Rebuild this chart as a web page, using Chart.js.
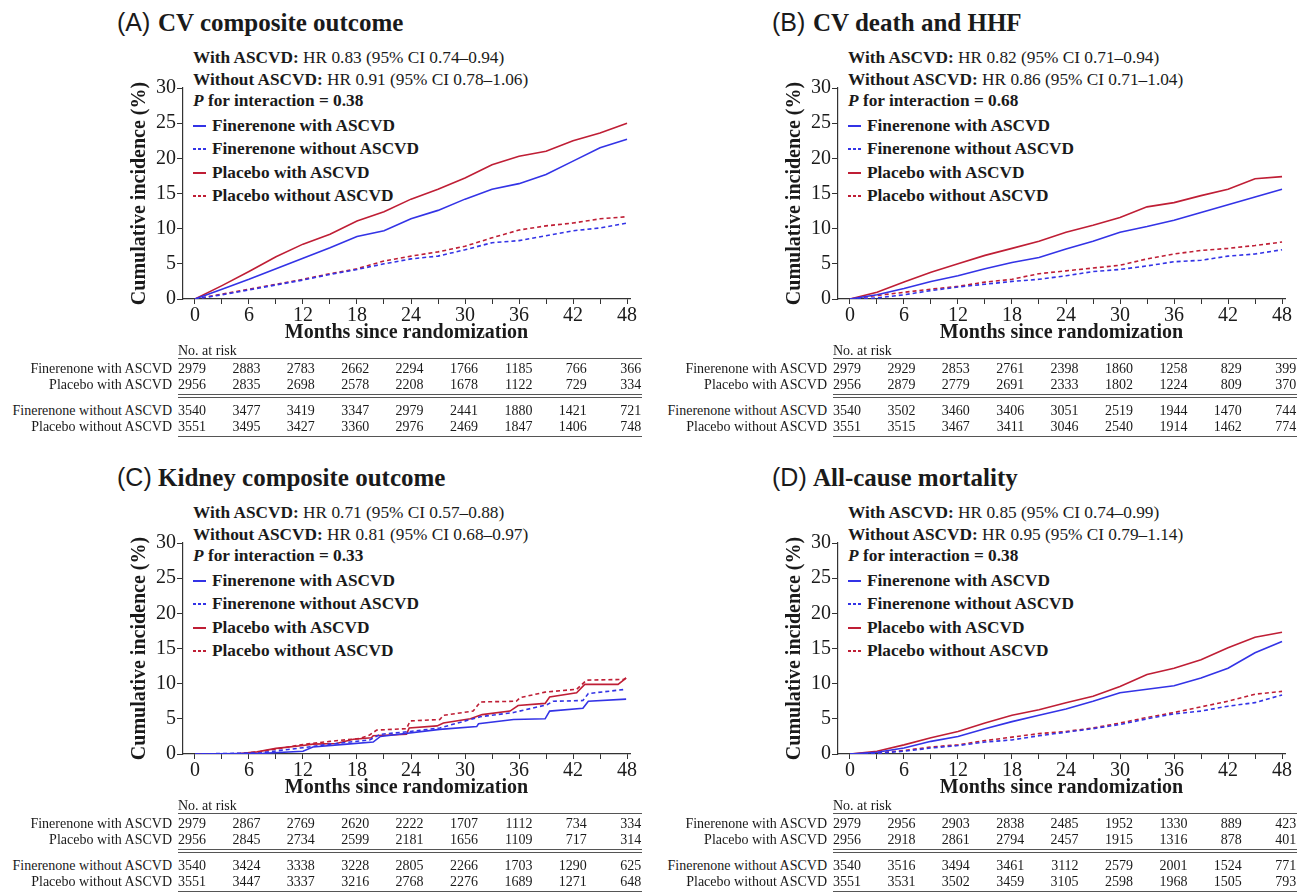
<!DOCTYPE html>
<html>
<head>
<meta charset="utf-8">
<script src="https://cdn.jsdelivr.net/npm/chart.js@4.4.1/dist/chart.umd.min.js"></script>
<style>
  body { margin: 0; background: #fff; }
  #fig { position: relative; width: 1303px; height: 893px; overflow: hidden; color: #1a1a1a;
         font-family: 'Liberation Serif', 'Times New Roman', serif; }
  .t { position: absolute; white-space: nowrap; }
  .hl { position: absolute; height: 0; }
  .sw { position: absolute; width: 13px; height: 2px; }
  canvas { position: absolute; }
</style>
</head>
<body>
<div id="fig"></div>
<script>
const months = [0, 3, 6, 9, 12, 15, 18, 21, 24, 27, 30, 33, 36, 39, 42, 45, 48];
const tickMonths = [0, 3, 6, 9, 12, 15, 18, 21, 24, 27, 30, 33, 36, 39, 42, 45, 48];
const yTicks = [0, 5, 10, 15, 20, 25, 30];

// (A) CV composite outcome, cumulative incidence %
const cvFinWith     = [0, 1.4, 2.8, 4.3, 5.8, 7.3, 8.9, 9.7, 11.4, 12.6, 14.2, 15.6, 16.4, 17.7, 19.6, 21.5, 22.7];
const cvFinWithout  = [0, 0.6, 1.3, 2.0, 2.7, 3.5, 4.2, 5.0, 5.7, 6.1, 7.0, 8.0, 8.3, 9.0, 9.7, 10.1, 10.8];
const cvPboWith     = [0, 1.9, 3.9, 6.0, 7.8, 9.2, 11.1, 12.4, 14.2, 15.6, 17.2, 19.1, 20.3, 21.0, 22.5, 23.6, 25.0];
const cvPboWithout  = [0, 0.7, 1.4, 2.1, 2.8, 3.6, 4.3, 5.4, 6.1, 6.7, 7.5, 8.7, 9.8, 10.4, 10.8, 11.4, 11.7];

// (B) CV death and HHF
const hfFinWith     = [0, 0.6, 1.5, 2.5, 3.3, 4.3, 5.2, 5.9, 7.1, 8.2, 9.5, 10.3, 11.2, 12.3, 13.4, 14.5, 15.6];
const hfFinWithout  = [0, 0.15, 0.6, 1.2, 1.7, 2.1, 2.5, 2.8, 3.3, 3.9, 4.2, 4.7, 5.3, 5.5, 6.1, 6.4, 7.0];
const hfPboWith     = [0, 0.95, 2.4, 3.8, 5.0, 6.2, 7.2, 8.2, 9.5, 10.5, 11.6, 13.1, 13.7, 14.7, 15.6, 17.1, 17.4];
const hfPboWithout  = [0, 0.5, 0.95, 1.4, 1.8, 2.4, 2.8, 3.6, 4.0, 4.4, 4.8, 5.7, 6.4, 6.9, 7.2, 7.6, 8.1];

// (C) Kidney composite outcome: [month, %] pairs (curves jump in steps)
const kidneyFinWith    = [[0, 0], [7.6, 0.1], [12, 0.4], [13.1, 1.0], [16.9, 1.4], [19.8, 1.7], [20.6, 2.5], [27.2, 3.5],
                          [31.3, 3.9], [31.5, 4.3], [35.4, 4.9], [38.9, 5.0], [39.4, 6.1], [43.1, 6.5], [43.7, 7.5], [47.9, 7.8]];
const kidneyFinWithout = [[0, 0], [7.2, 0.15], [12, 0.9], [15, 1.4], [19.4, 2.0], [20.6, 2.8], [23.9, 3.2], [27.2, 3.7],
                          [31.7, 5.3], [35.4, 5.9], [39.1, 7.0], [39.8, 7.5], [43.1, 7.6], [43.7, 8.6], [47.9, 9.2]];
const kidneyPboWith    = [[0, 0], [5, 0.05], [6.9, 0.3], [9, 0.8], [12, 1.2], [13.1, 1.4], [15.7, 1.5], [17.6, 2.1],
                          [19.6, 2.3], [19.8, 2.6], [23.5, 2.8], [23.8, 3.7], [26.9, 4.0], [27.6, 4.4], [30.6, 5.0],
                          [31.9, 5.6], [35, 6.1], [35.9, 6.9], [38.9, 7.2], [39.4, 8.1], [42.4, 8.7], [43.3, 9.9],
                          [47, 9.9], [47.9, 10.8]];
const kidneyPboWithout = [[0, 0], [5, 0.05], [7.2, 0.33], [9, 0.7], [12, 1.35], [15, 1.8], [18.3, 2.2], [19.4, 2.7],
                          [20.2, 3.4], [23.5, 3.6], [23.9, 4.7], [27.2, 4.9], [27.6, 5.5], [30.9, 6.1], [31.7, 7.4],
                          [35.7, 7.5], [36.1, 8.0], [38.9, 8.8], [42.4, 9.2], [43.5, 10.5], [47.6, 10.6], [47.9, 10.8]];

// (D) All-cause mortality
const acmFinWith    = [0, 0.25, 0.85, 1.8, 2.5, 3.6, 4.6, 5.5, 6.4, 7.5, 8.7, 9.2, 9.7, 10.8, 12.2, 14.4, 16.0];
const acmFinWithout = [0, 0.1, 0.4, 0.85, 1.2, 1.7, 2.0, 2.6, 3.1, 3.6, 4.2, 5.0, 5.7, 6.1, 6.8, 7.3, 8.4];
const acmPboWith    = [0, 0.4, 1.3, 2.3, 3.2, 4.4, 5.5, 6.3, 7.3, 8.2, 9.6, 11.3, 12.2, 13.4, 15.1, 16.6, 17.3];
const acmPboWithout = [0, 0.15, 0.5, 1.0, 1.3, 1.9, 2.4, 2.9, 3.2, 3.7, 4.4, 5.2, 5.9, 6.7, 7.5, 8.5, 8.9];

// numbers at risk at 0, 6, ..., 48 months
const riskRowLabels = ['Finerenone with ASCVD', 'Placebo with ASCVD', 'Finerenone without ASCVD', 'Placebo without ASCVD'];
const cvRisk  = [[2979, 2883, 2783, 2662, 2294, 1766, 1185, 766, 366],
                 [2956, 2835, 2698, 2578, 2208, 1678, 1122, 729, 334],
                 [3540, 3477, 3419, 3347, 2979, 2441, 1880, 1421, 721],
                 [3551, 3495, 3427, 3360, 2976, 2469, 1847, 1406, 748]];
const hfRisk  = [[2979, 2929, 2853, 2761, 2398, 1860, 1258, 829, 399],
                 [2956, 2879, 2779, 2691, 2333, 1802, 1224, 809, 370],
                 [3540, 3502, 3460, 3406, 3051, 2519, 1944, 1470, 744],
                 [3551, 3515, 3467, 3411, 3046, 2540, 1914, 1462, 774]];
const kidneyRisk = [[2979, 2867, 2769, 2620, 2222, 1707, 1112, 734, 334],
                    [2956, 2845, 2734, 2599, 2181, 1656, 1109, 717, 314],
                    [3540, 3424, 3338, 3228, 2805, 2266, 1703, 1290, 625],
                    [3551, 3447, 3337, 3216, 2768, 2276, 1689, 1271, 648]];
const acmRisk = [[2979, 2956, 2903, 2838, 2485, 1952, 1330, 889, 423],
                 [2956, 2918, 2861, 2794, 2457, 1915, 1316, 878, 401],
                 [3540, 3516, 3494, 3461, 3112, 2579, 2001, 1524, 771],
                 [3551, 3531, 3502, 3459, 3105, 2598, 1968, 1505, 793]];

const seriesNames = ['Finerenone with ASCVD', 'Finerenone without ASCVD', 'Placebo with ASCVD', 'Placebo without ASCVD'];
const BLUE = '#3333e6';
const RED = '#bf1e35';
const seriesColors = [BLUE, BLUE, RED, RED];
const seriesDashed = [false, true, false, true];

const panels = [
  { ox: 0, oy: 0, tag: '(A)', title: 'CV composite outcome',
    hr1: 'HR 0.83 (95% CI 0.74–0.94)', hr2: 'HR 0.91 (95% CI 0.78–1.06)', p: '0.38',
    series: [cvFinWith, cvFinWithout, cvPboWith, cvPboWithout], risk: cvRisk },
  { ox: 655, oy: 0, tag: '(B)', title: 'CV death and HHF',
    hr1: 'HR 0.82 (95% CI 0.71–0.94)', hr2: 'HR 0.86 (95% CI 0.71–1.04)', p: '0.68',
    series: [hfFinWith, hfFinWithout, hfPboWith, hfPboWithout], risk: hfRisk },
  { ox: 0, oy: 455, tag: '(C)', title: 'Kidney composite outcome',
    hr1: 'HR 0.71 (95% CI 0.57–0.88)', hr2: 'HR 0.81 (95% CI 0.68–0.97)', p: '0.33',
    series: [kidneyFinWith, kidneyFinWithout, kidneyPboWith, kidneyPboWithout], risk: kidneyRisk },
  { ox: 655, oy: 455, tag: '(D)', title: 'All-cause mortality',
    hr1: 'HR 0.85 (95% CI 0.74–0.99)', hr2: 'HR 0.95 (95% CI 0.79–1.14)', p: '0.38',
    series: [acmFinWith, acmFinWithout, acmPboWith, acmPboWithout], risk: acmRisk }
];

const SERIF = "'Liberation Serif', 'Times New Roman', serif";
const SANS = "'Liberation Sans', Arial, sans-serif";
const INK = '#1a1a1a';
const AXIS = '#333';
const fig = document.getElementById('fig');

function text(html, x, yc, size, opts = {}) {
  const d = document.createElement('div');
  d.className = 't';
  const lh = Math.round(size * 1.3);
  d.style.top = (yc - lh / 2) + 'px';
  d.style.lineHeight = lh + 'px';
  d.style.fontSize = size + 'px';
  if (opts.right) { d.style.right = (1303 - x) + 'px'; d.style.textAlign = 'right'; }
  else d.style.left = x + 'px';
  if (opts.bold) d.style.fontWeight = 'bold';
  if (opts.family) d.style.fontFamily = opts.family;
  d.innerHTML = html;
  fig.appendChild(d);
  return d;
}

function hline(x1, x2, y, w, color) {
  const d = document.createElement('div');
  d.className = 'hl';
  d.style.left = x1 + 'px';
  d.style.width = (x2 - x1) + 'px';
  d.style.top = y + 'px';
  d.style.borderTop = w + 'px solid ' + color;
  fig.appendChild(d);
}

function toPoints(arr) {
  if (Array.isArray(arr[0])) return arr.map(([x, y]) => ({ x, y }));
  return months.map((m, i) => ({ x: m, y: arr[i] }));
}

panels.forEach(p => {
  const X = v => p.ox + v, Y = v => p.oy + v;

  // heading
  text(p.tag, X(117), Y(22), 25, { family: SANS });
  text(p.title, X(158), Y(22), 25, { bold: true });

  // HR annotation
  text('<b>With ASCVD:</b> ' + p.hr1, X(193), Y(58), 17.3);
  text('<b>Without ASCVD:</b> ' + p.hr2, X(193), Y(80), 17.3);
  text('<b><i>P</i> for interaction = ' + p.p + '</b>', X(193), Y(101), 17.3);

  // legend
  seriesNames.forEach((name, i) => {
    const yc = Math.round(Y(126 + i * 23.3));
    const s = document.createElement('div');
    s.className = 'sw';
    s.style.left = X(193) + 'px';
    s.style.top = (yc - 1) + 'px';
    s.style.background = seriesDashed[i]
      ? `repeating-linear-gradient(90deg, ${seriesColors[i]} 0 3px, transparent 3px 5px)`
      : seriesColors[i];
    fig.appendChild(s);
    text(name, X(212), yc, 17.3, { bold: true });
  });

  // chart
  const cv = document.createElement('canvas');
  cv.width = 545; cv.height = 275;
  cv.style.left = X(100) + 'px';
  cv.style.top = Y(75) + 'px';
  fig.appendChild(cv);

  new Chart(cv, {
    type: 'line',
    data: {
      datasets: p.series.map((s, i) => ({
        label: seriesNames[i],
        data: toPoints(s),
        borderColor: seriesColors[i],
        borderWidth: 1.6,
        borderDash: seriesDashed[i] ? [4, 3] : [],
        pointRadius: 0,
        fill: false,
        tension: 0
      }))
    },
    options: {
      responsive: false,
      animation: false,
      layout: { padding: { top: 13, right: 15, left: 0, bottom: 0 } },
      plugins: { legend: { display: false }, tooltip: { enabled: false } },
      scales: {
        x: {
          type: 'linear', min: -1.33, max: 48.33,
          afterBuildTicks: s => { s.ticks = tickMonths.map(v => ({ value: v })); },
          afterFit: s => { s.height = 51; },
          grid: { drawOnChartArea: false, tickLength: 5, color: AXIS, lineWidth: 1 },
          border: { color: AXIS, width: 1.2 },
          ticks: {
            autoSkip: false, maxRotation: 0, padding: 0, color: INK,
            font: { family: SERIF, size: 20 },
            callback: v => (v % 6 === 0 ? String(v) : '')
          },
          title: {
            display: true, text: 'Months since randomization', color: INK,
            font: { family: SERIF, size: 20, weight: 'bold' }, padding: { top: 0, bottom: 5 }
          }
        },
        y: {
          min: 0, max: 30,
          afterBuildTicks: s => { s.ticks = yTicks.map(v => ({ value: v })); },
          afterFit: s => { s.width = 83; },
          grid: { drawOnChartArea: false, tickLength: 6, color: AXIS, lineWidth: 1 },
          border: { color: AXIS, width: 1.2 },
          ticks: { padding: 1, color: INK, font: { family: SERIF, size: 20 } },
          title: {
            display: true, text: 'Cumulative incidence (%)', color: INK,
            font: { family: SERIF, size: 20, weight: 'bold' }, padding: { top: 28, bottom: 0 }
          }
        }
      }
    }
  });

  // number-at-risk table
  const tl = X(178), tr = X(642);
  text('No. at risk', tl, Y(351), 14);
  hline(tl, tr, Y(358), 1.5, '#555');
  const rowY = [369, 385, 411, 427];
  p.risk.forEach((row, r) => {
    text(riskRowLabels[r], X(172), Y(rowY[r]), 14, { right: true });
    row.forEach((n, c) => text(String(n), X(206 + 54.4 * c), Y(rowY[r]), 14, { right: true }));
  });
  hline(tl, tr, Y(394), 1, '#555');
  hline(tl, tr, Y(397), 1, '#555');
  hline(tl, tr, Y(436), 1, '#555');
});
</script>
</body>
</html>
